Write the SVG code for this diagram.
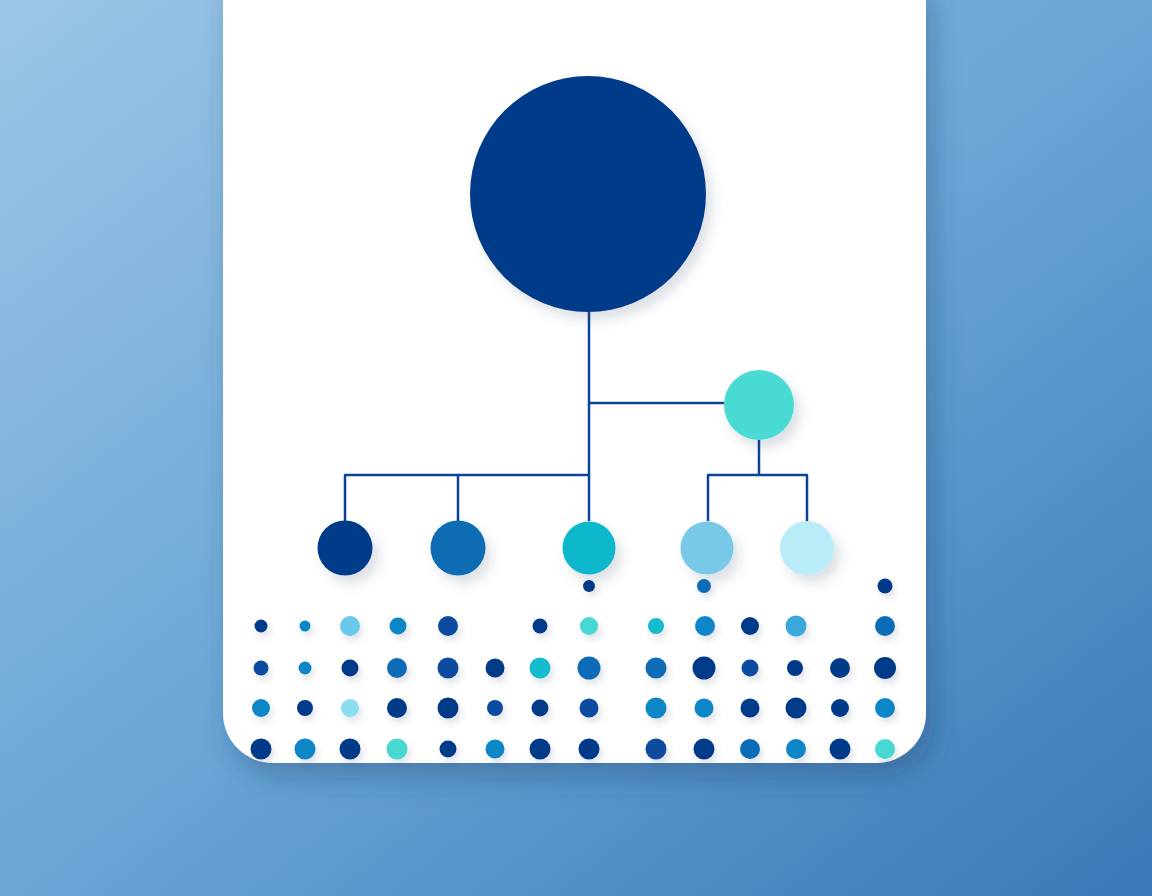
<svg xmlns="http://www.w3.org/2000/svg" width="1152" height="896" viewBox="0 0 1152 896">
<defs>
<linearGradient id="bg" x1="0" y1="0" x2="1" y2="1">
<stop offset="0" stop-color="#9cc6e6"/>
<stop offset="0.5" stop-color="#6aa6d6"/>
<stop offset="1" stop-color="#3a78b8"/>
</linearGradient>
<filter id="cardSh" x="-10%" y="-10%" width="130%" height="130%">
<feDropShadow dx="8" dy="14" stdDeviation="14" flood-color="#1a3f70" flood-opacity="0.35"/>
</filter>
<filter id="sh" x="-50%" y="-50%" width="220%" height="220%">
<feDropShadow dx="6" dy="8" stdDeviation="6" flood-color="#3a5070" flood-opacity="0.18"/>
</filter>
<filter id="dsh" x="-60%" y="-60%" width="260%" height="260%">
<feDropShadow dx="3" dy="5" stdDeviation="3" flood-color="#3a5070" flood-opacity="0.15"/>
</filter>
</defs>
<style>
.ln{fill:none;stroke:#0b4396;stroke-width:2.5;stroke-linejoin:round}
.n{fill:#063a8a}.m{fill:#0a4ca0}.b{fill:#0a6cb8}.c{fill:#1086c8}.s{fill:#3aa8dc}.l{fill:#6ac8ea}.p{fill:#8adcf0}.t{fill:#46d8d2}.y{fill:#12bccc}
</style>
<rect width="1152" height="896" fill="url(#bg)"/>
<path id="card" d="M223 -20 H926 V713 A50 50 0 0 1 876 763 H273 A50 50 0 0 1 223 713 Z" fill="#ffffff" filter="url(#cardSh)"/>
<g id="connectors">
<path class="ln" d="M589 312 V521"/>
<path class="ln" d="M589 403 H724"/>
<path class="ln" d="M589 475 H345 V521"/>
<path class="ln" d="M458 475 V521"/>
<path class="ln" d="M759 440 V475"/>
<path class="ln" d="M708 521 V475 H807 V521"/>
</g>
<g id="root" filter="url(#sh)"><circle cx="588" cy="194" r="118" fill="#063a8a"/></g>
<g id="hub" filter="url(#sh)"><circle cx="759" cy="405" r="35" fill="#4adad3"/></g>
<g id="leaf1" filter="url(#sh)"><circle cx="345" cy="548" r="27.5" fill="#063a8a"/></g>
<g id="leaf2" filter="url(#sh)"><circle cx="458" cy="548" r="27.5" fill="#0a6cb4"/></g>
<g id="leaf3" filter="url(#sh)"><circle cx="589" cy="548" r="26.5" fill="#0ab8cc"/></g>
<g id="leaf4" filter="url(#sh)"><circle cx="707" cy="548" r="26.5" fill="#78c8e8"/></g>
<g id="leaf5" filter="url(#sh)"><circle cx="807" cy="548" r="27" fill="#b8ecf8"/></g>
<g id="dots" filter="url(#dsh)">
<circle class="n" cx="589" cy="586" r="6"/>
<circle class="b" cx="704" cy="586" r="7"/>
<circle class="n" cx="885" cy="586" r="7.5"/>

<circle class="n" cx="261" cy="626" r="6.5"/>
<circle class="c" cx="305" cy="626" r="5.5"/>
<circle class="l" cx="350" cy="626" r="10"/>
<circle class="c" cx="398" cy="626" r="8.5"/>
<circle class="m" cx="448" cy="626" r="10"/>
<circle class="n" cx="540" cy="626" r="7.5"/>
<circle class="t" cx="589" cy="626" r="9"/>
<circle class="y" cx="656" cy="626" r="8"/>
<circle class="c" cx="705" cy="626" r="10"/>
<circle class="n" cx="750" cy="626" r="9"/>
<circle class="s" cx="796" cy="626" r="10.5"/>
<circle class="b" cx="885" cy="626" r="10"/>

<circle class="m" cx="261" cy="668" r="7.5"/>
<circle class="c" cx="305" cy="668" r="6.5"/>
<circle class="n" cx="350" cy="668" r="8.5"/>
<circle class="b" cx="397" cy="668" r="10"/>
<circle class="m" cx="448" cy="668" r="10.5"/>
<circle class="n" cx="495" cy="668" r="9.5"/>
<circle class="y" cx="540" cy="668" r="10.5"/>
<circle class="b" cx="589" cy="668" r="11.5"/>
<circle class="b" cx="656" cy="668" r="10.5"/>
<circle class="n" cx="704" cy="668" r="11.5"/>
<circle class="m" cx="750" cy="668" r="8.5"/>
<circle class="n" cx="795" cy="668" r="8"/>
<circle class="n" cx="840" cy="668" r="10"/>
<circle class="n" cx="885" cy="668" r="11"/>

<circle class="c" cx="261" cy="708" r="9"/>
<circle class="n" cx="305" cy="708" r="8"/>
<circle class="p" cx="350" cy="708" r="9"/>
<circle class="n" cx="397" cy="708" r="10"/>
<circle class="n" cx="448" cy="708" r="10.5"/>
<circle class="m" cx="495" cy="708" r="8"/>
<circle class="n" cx="540" cy="708" r="8.5"/>
<circle class="m" cx="589" cy="708" r="9.5"/>
<circle class="c" cx="656" cy="708" r="10.5"/>
<circle class="c" cx="704" cy="708" r="9.5"/>
<circle class="n" cx="750" cy="708" r="9.5"/>
<circle class="n" cx="796" cy="708" r="10.5"/>
<circle class="n" cx="840" cy="708" r="9"/>
<circle class="c" cx="885" cy="708" r="10"/>

<circle class="n" cx="261" cy="749" r="10.5"/>
<circle class="c" cx="305" cy="749" r="10.5"/>
<circle class="n" cx="350" cy="749" r="10.5"/>
<circle class="t" cx="397" cy="749" r="10.5"/>
<circle class="n" cx="448" cy="749" r="8.5"/>
<circle class="c" cx="495" cy="749" r="9.5"/>
<circle class="n" cx="540" cy="749" r="10.5"/>
<circle class="n" cx="589" cy="749" r="10.5"/>
<circle class="m" cx="656" cy="749" r="10.5"/>
<circle class="n" cx="704" cy="749" r="10.5"/>
<circle class="b" cx="750" cy="749" r="10"/>
<circle class="c" cx="796" cy="749" r="10"/>
<circle class="n" cx="840" cy="749" r="10.5"/>
<circle class="t" cx="885" cy="749" r="10"/>
</g>
</svg>
